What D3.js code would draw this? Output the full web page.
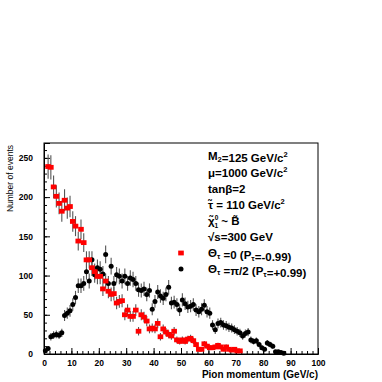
<!DOCTYPE html>
<html>
<head>
<meta charset="utf-8">
<script src="https://cdn.jsdelivr.net/npm/d3@7"></script>
<style>
  body { margin: 0; background: #fff; }
  svg text { font-family: "Liberation Sans", Arial, sans-serif; }
</style>
</head>
<body>
<div id="chart"></div>
<script>
// counts per 1 GeV/c bin, first entry = bin [0,1)
const redCounts = [null, 239, 238, 213, 201, 192, 182, 196, 186, 188, 169, 163, 144, 159, 142, 120, 120, 110, 105, 99, 99,
  83, 93, 80, 76, 77, 65, 67, 68, 50, 56, 48, 48, 56, 29, 50, 47, 42, 32, 33, 32, 39, 22, 32, 28, 25, 23, 29, 18, 16, 18,
  16, 19, 20, 17, 12, 6, 6, 13, 10, 8, 8, 9, 11, 9, 6, 9, 6, 5, 6, 4, 4];
const blackCounts = [4, 7, 22, 24, 25, 24, 27, 49, 52, 55, 63, 72, 87, 87, 90, 105, 93, 120, 101, 110, 108,
  102, 127, 90, 112, 90, 101, 99, 93, 99, 90, 97, 95, 90, 82, 81, 83, 76, 81, 57, 67, 79, 74, 71, 76, 85, 65, 66, 63, 56, 69,
  64, 60, 61, 63, 56, 54, 57, 62, 54, 52, 37, 31, 39, 40, 37, 36, 34, 33, 31, 29, 27, 23, 26, 28, 18, 16, 17, 12, 8, 6,
  14, 12, 10, 3, 3, 2, 1];
const binWidth = 1;
const xTicks = [0, 10, 20, 30, 40, 50, 60, 70, 80, 90, 100];
const yTicks = [0, 50, 100, 150, 200, 250];

const W = 382, H = 382;
const margin = { top: 143, right: 64, bottom: 28, left: 44 };
const width = W - margin.left - margin.right,
  height = H - margin.top - margin.bottom;

const svg = d3.select("#chart").append("svg")
  .attr("width", W).attr("height", H);
const g = svg.append("g").attr("transform", `translate(${margin.left},${margin.top})`);

const x = d3.scaleLinear().domain([0, 100]).range([0, width]);
const y = d3.scaleLinear().domain([0, 269]).range([height, 0]);

// frame
g.append("rect").attr("width", width).attr("height", height)
  .attr("fill", "none").attr("stroke", "#000").attr("stroke-width", 1);

// minor ticks (inward)
g.append("g").attr("transform", `translate(0,${height})`)
  .call(d3.axisBottom(x).tickValues(d3.range(0, 101, 2)).tickSize(-3).tickFormat(""))
  .call(a => a.select(".domain").remove());
g.append("g")
  .call(d3.axisLeft(y).tickValues(d3.range(0, 261, 10)).tickSize(-3).tickFormat(""))
  .call(a => a.select(".domain").remove());

// major ticks
const xAxis = g.append("g").attr("transform", `translate(0,${height})`)
  .call(d3.axisBottom(x).tickValues(xTicks).tickSize(-6).tickPadding(6));
const yAxis = g.append("g")
  .call(d3.axisLeft(y).tickValues(yTicks).tickSize(-6).tickPadding(11));
[xAxis, yAxis].forEach(a => {
  a.select(".domain").attr("stroke", "#000");
  a.selectAll("text").attr("font-size", 8.5).attr("font-weight", "bold")
    .attr("font-family", "'Liberation Sans', Arial, sans-serif");
});

// axis titles
svg.append("text")
  .attr("x", margin.left + width).attr("y", 378)
  .attr("text-anchor", "end").attr("font-size", 10).attr("font-weight", "bold")
  .text("Pion momentum (GeV/c)");
svg.append("text")
  .attr("transform", "translate(13,145) rotate(-90)")
  .attr("text-anchor", "end").attr("font-size", 8.5)
  .text("Number of events");

function points(counts) {
  return counts.map((c, i) => ({ m: (i + 0.5) * binWidth, n: c })).filter(d => d.n != null);
}
const red = points(redCounts), black = points(blackCounts);

const plot = g.append("g");

// error bars
[black, red].forEach(set => {
  plot.selectAll(null).data(set).enter().append("line")
    .attr("x1", d => x(d.m)).attr("x2", d => x(d.m))
    .attr("y1", d => y(d.n + Math.sqrt(d.n)))
    .attr("y2", d => y(Math.max(0, d.n - Math.sqrt(d.n))))
    .attr("stroke", "#555").attr("stroke-width", 1.1);
});

plot.selectAll(null).data(black).enter().append("circle")
  .attr("cx", d => x(d.m)).attr("cy", d => y(d.n)).attr("r", 2.5)
  .attr("fill", "#000");
plot.selectAll(null).data(red).enter().append("rect")
  .attr("x", d => x(d.m) - 2.8).attr("y", d => y(d.n) - 2.4)
  .attr("width", 5.6).attr("height", 4.8).attr("fill", "#f00");

// legend / annotation
const lx = 208;
const leg = svg.append("g").attr("font-size", 11.5).attr("font-weight", "bold");
function line(yy, build) {
  const t = leg.append("text").attr("x", lx).attr("y", yy);
  build(t);
  return t;
}
const sub = (t, s) => {
  t.append("tspan").attr("dy", 2).attr("font-size", 7.5).text(s);
  t.append("tspan").attr("dy", -2).text("");
};
const sup = (t, s) => t.append("tspan").attr("dy", -5).attr("font-size", 7.5).text(s);
const txt = (t, s) => t.append("tspan").text(s);

line(160, t => { txt(t, "M"); sub(t, "2"); txt(t, "=125 GeV/c"); sup(t, "2"); });
line(177, t => { txt(t, "\u03bc=1000 GeV/c"); sup(t, "2"); });
line(193, t => { txt(t, "tan\u03b2=2"); });
line(209, t => { txt(t, "\u03c4\u0303 = 110 GeV/c"); sup(t, "2"); });
line(225, t => {
  txt(t, "\u03c7\u0303");
  t.append("tspan").attr("font-size", 6.5).attr("dy", -5).text("0");
  t.append("tspan").attr("font-size", 6.5).attr("dx", -3.7).attr("dy", 8).text("1");
  t.append("tspan").attr("dy", -3).text(" ~ B\u0303");
});
line(241, t => { txt(t, "\u221as=300 GeV"); });
line(257, t => { txt(t, "\u0398"); sub(t, "\u03c4"); txt(t, " =0 (P"); sub(t, "\u03c4"); txt(t, "=-0.99)"); });
line(273, t => { txt(t, "\u0398"); sub(t, "\u03c4"); txt(t, " =\u03c0/2 (P"); sub(t, "\u03c4"); txt(t, "=+0.99)"); });

svg.append("rect").attr("x", 181 - 2.8).attr("y", 253 - 2.4).attr("width", 5.6).attr("height", 4.8).attr("fill", "#f00");
svg.append("circle").attr("cx", 181).attr("cy", 269).attr("r", 2.5).attr("fill", "#000");
</script>
</body>
</html>
